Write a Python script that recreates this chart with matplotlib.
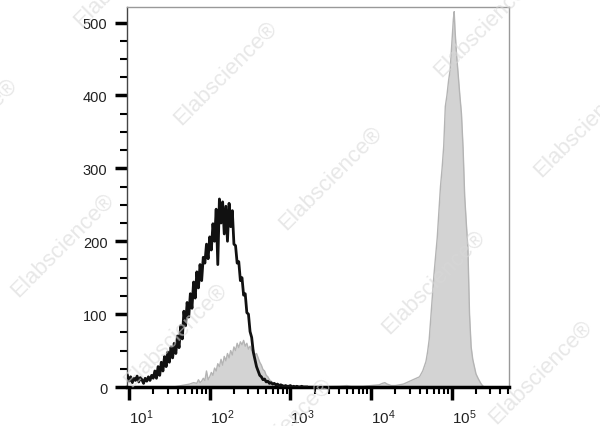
import numpy as np
import matplotlib
matplotlib.use('Agg')
from matplotlib import pyplot as plt
from matplotlib.ticker import MultipleLocator, LogLocator, LogFormatterMathtext, NullFormatter

plt.rcParams['font.family'] = ['Liberation Sans', 'DejaVu Sans']
plt.rcParams['mathtext.fontset'] = 'custom'
plt.rcParams['mathtext.rm'] = 'Liberation Sans'
plt.rcParams['mathtext.it'] = 'Liberation Sans'

# black outline histogram (isotype control), log10 of channel vs count
black_counts = [16, 8, 14, 6, 12, 9, 15, 7, 13, 10, 5, 12, 8, 14, 9, 16, 12, 22, 12, 28,
                16, 34, 22, 42, 28, 48, 34, 55, 40, 60, 46, 70, 54, 84, 66, 104, 84, 116, 96, 128,
                108, 144, 122, 158, 136, 168, 146, 178, 170, 196, 176, 206, 188, 224, 200, 244, 168, 258, 225, 254,
                210, 248, 200, 252, 220, 242, 196, 194, 170, 172, 146, 150, 126, 128, 102, 100, 76, 68, 48, 38,
                28, 22, 16, 14, 10, 11, 7, 8, 5, 6, 4, 5, 3, 4, 2, 3, 2, 1, 2, 1,
                1, 2, 0, 1, 0, 1, 0, 0, 1, 0, 0, 0]
black_log = np.linspace(0.98, 3.20, len(black_counts))

# grey filled histogram (stained sample)
gray_log = [1.55, 1.60, 1.65, 1.70, 1.75, 1.80, 1.84, 1.86, 1.88, 1.90, 1.92, 1.94, 1.96, 1.98,
            2.00, 2.02, 2.04, 2.06, 2.08, 2.10, 2.12, 2.14, 2.16, 2.18, 2.20, 2.22, 2.24, 2.26,
            2.28, 2.30, 2.32, 2.34, 2.36, 2.38, 2.40, 2.42, 2.44, 2.46, 2.48, 2.50, 2.52, 2.54,
            2.56, 2.58, 2.60, 2.62, 2.64, 2.66, 2.68, 2.70, 2.72, 2.74, 2.76, 2.78, 2.80, 2.85,
            2.90, 3.00, 3.20, 3.40, 3.60, 3.70, 3.75, 3.80, 3.90, 4.00, 4.10, 4.14, 4.17, 4.20,
            4.25, 4.30, 4.35, 4.40, 4.44, 4.48, 4.52, 4.56, 4.60, 4.64, 4.68, 4.70, 4.72, 4.74,
            4.76, 4.78, 4.80, 4.82, 4.84, 4.86, 4.88, 4.90, 4.92, 4.94, 4.96, 4.98, 5.00, 5.02,
            5.03, 5.04, 5.06, 5.08, 5.10, 5.12, 5.14, 5.16, 5.18, 5.20, 5.22, 5.24, 5.26, 5.28,
            5.30, 5.33, 5.36, 5.38, 5.40]
gray_counts = [0, 1, 2, 3, 4, 6, 5, 10, 6, 8, 12, 9, 22, 10,
               14, 20, 16, 26, 22, 32, 28, 38, 30, 42, 36, 46, 40, 50,
               44, 55, 50, 60, 54, 62, 58, 64, 56, 60, 52, 56, 50, 52,
               44, 46, 40, 34, 30, 24, 22, 16, 14, 10, 8, 6, 5, 3,
               2, 1, 1, 0.5, 1, 2, 1, 1, 1, 2, 3, 5, 6, 4,
               2, 2, 3, 4, 6, 8, 10, 12, 14, 22, 35, 48, 65, 95,
               125, 155, 180, 205, 240, 275, 300, 330, 385, 400, 420, 435, 470, 505,
               515, 490, 455, 428, 400, 375, 328, 262, 225, 190, 100, 55, 38, 28,
               18, 11, 5, 2, 0]

# watermark centres in pixels (x, y from top)
wm_x = [125, -35, 225, 485, 330, 585, 62, 175, 433, 540, 280]
wm_y = [-25, 130, 73, 25, 178, 125, 245, 335, 282, 372, 430]

fig = plt.figure(figsize=(6, 4.27), dpi=100)
ax = fig.add_axes([0.2117, 0.0913, 0.6366, 0.8893])

gx = 10 ** np.array(gray_log)
ax.fill_between(gx, gray_counts, 0, color='#d3d3d3', linewidth=0, zorder=1)
ax.plot(gx, gray_counts, color='#b4b4b4', linewidth=1.0, zorder=2)
ax.plot(10 ** black_log, black_counts, color='#111111', linewidth=2.0, zorder=3)

ax.set_xscale('log')
ax.set_xlim(10 ** 0.975, 10 ** 5.709)
ax.set_ylim(0, 521)

ax.xaxis.set_major_locator(LogLocator(base=10, numticks=10))
ax.xaxis.set_major_formatter(LogFormatterMathtext())
ax.xaxis.set_minor_locator(LogLocator(base=10, subs=np.arange(2, 10), numticks=20))
ax.xaxis.set_minor_formatter(NullFormatter())
ax.yaxis.set_major_locator(MultipleLocator(100))
ax.yaxis.set_minor_locator(MultipleLocator(25))

ax.tick_params(which='major', direction='out', length=9, width=2.5, color='black',
               labelcolor='#222222')
ax.tick_params(which='minor', direction='out', length=5, width=1.5, color='black')
ax.tick_params(axis='x', which='major', pad=6, labelsize=11)
ax.tick_params(axis='y', which='major', pad=5, labelsize=10.5)
plt.setp(ax.get_xticklabels(), ha='left')

ax.spines['bottom'].set_linewidth(2.5)
ax.spines['bottom'].set_color('black')
ax.spines['left'].set_linewidth(1.0)
ax.spines['left'].set_color('#444444')
ax.spines['top'].set_linewidth(1.0)
ax.spines['top'].set_color('#999999')
ax.spines['right'].set_linewidth(1.0)
ax.spines['right'].set_color('#999999')

for x, y in zip(wm_x, wm_y):
    fig.text(x / 600, 1 - y / 427, 'Elabscience®', rotation=45, fontsize=16,
             color='#d8d8d8', alpha=0.6, ha='center', va='center', zorder=10)

fig.savefig('out.png', dpi=100)
